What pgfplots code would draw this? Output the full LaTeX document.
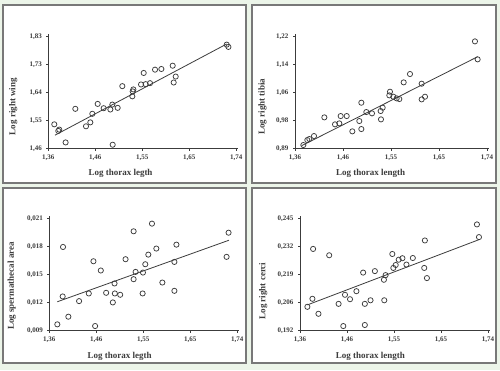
\documentclass[border=0pt]{standalone}
\usepackage{pgfplots}
\pgfplotsset{compat=1.18}
\usepackage{fontspec}
\setmainfont{Liberation Serif}
\definecolor{bgc}{RGB}{236,245,233}
\definecolor{frame}{RGB}{120,120,120}
\definecolor{ink}{RGB}{60,60,60}
\pgfplotsset{
  panel/.style={
    scale only axis,
    width=190pt, height=115pt,
    axis x line=bottom, axis y line=left,
    axis line style={-, ink, line width=0.9pt},
    xmin=1.36, xmax=1.744,
    xtick={1.36,1.455,1.55,1.645,1.74},
    xticklabels={{1,36},{1,46},{1,55},{1,65},{1,74}},
    scaled ticks=false,
    tick align=outside, major tick length=2pt,
    tick style={ink, line width=0.6pt},
    /pgf/number format/assume math mode=true,
    tick label style={font=\fontsize{7}{8}\selectfont\bfseries, text=ink},
    label style={font=\fontsize{9}{10}\selectfont\bfseries, text=ink},
    xlabel style={at={(axis description cs:0.38,-0.214)}, anchor=center},
    xticklabel style={yshift=-1pt},
    yticklabel style={xshift=-1pt},
    clip=false,
  },
  pts/.style={only marks, mark=o, mark size=2.6pt, ink, mark options={line width=0.75pt}},
  fit/.style={no marks, ink, line width=0.8pt},
}
\begin{document}
\begin{tikzpicture}[x=1pt,y=1pt]
\fill[bgc] (0,0) rectangle (500,370);
\filldraw[fill=white, draw=frame, line width=1.4pt] (3,187) rectangle (246,365);
\filldraw[fill=white, draw=frame, line width=1.4pt] (252,187) rectangle (496,365);
\filldraw[fill=white, draw=frame, line width=1.4pt] (3,7) rectangle (246,182);
\filldraw[fill=white, draw=frame, line width=1.4pt] (252,7) rectangle (496,182);

% Top-left
\begin{axis}[panel, at={(48.3pt,221.3pt)}, anchor=south west,
  ymin=1.46, ymax=1.8399,
  ytick={1.46,1.5525,1.645,1.7375,1.83},
  yticklabels={{1,46},{1,55},{1,64},{1,73},{1,83}},
  xlabel={Log thorax legth}, ylabel={Log right wing},
  ylabel style={at={(axis description cs:-0.184,0.365)}, anchor=center}]
\addplot[pts] coordinates {
(1.3721,1.5405)(1.3822,1.5231)(1.3802,1.5188)(1.3950,1.4807)(1.4146,1.5917)
(1.4362,1.5340)(1.4449,1.5470)(1.4490,1.5753)(1.4598,1.6080)(1.4719,1.5938)
(1.4854,1.5895)(1.4894,1.6058)(1.5002,1.5949)(1.4901,1.4731)(1.5096,1.6667)
(1.5298,1.6330)(1.5319,1.6558)(1.5305,1.6493)(1.5528,1.7102)(1.5474,1.6722)
(1.5568,1.6733)(1.5656,1.6765)(1.5757,1.7211)(1.5885,1.7233)(1.6114,1.7342)
(1.6134,1.6787)(1.6175,1.6983)(1.7206,1.8038)(1.7240,1.7962)};
\addplot[fit] coordinates {(1.3735,1.5046)(1.7206,1.8060)};
\end{axis}

% Top-right
\begin{axis}[panel, at={(295pt,221.3pt)}, anchor=south west, width=194pt,
  ymin=0.89, ymax=1.2288,
  ytick={0.89,0.9725,1.055,1.1375,1.22},
  yticklabels={{0,89},{0,98},{1,06},{1,14},{1,22}},
  xlabel={Log thorax length}, ylabel={Log right tibia},
  xlabel style={at={(axis description cs:0.39,-0.214)}, anchor=center},
  ylabel style={at={(axis description cs:-0.167,0.365)}, anchor=center}]
\addplot[pts] coordinates {
(1.3765,0.9008)(1.3844,0.9155)(1.3884,0.9185)(1.3976,0.9273)(1.4181,0.9823)
(1.4392,0.9617)(1.4477,0.9646)(1.4504,0.9862)(1.4623,0.9862)(1.4735,0.9411)
(1.4873,0.9715)(1.4913,1.0255)(1.4913,0.9479)(1.5012,0.9980)(1.5124,0.9941)
(1.5295,1.0010)(1.5335,1.0108)(1.5302,0.9764)(1.5480,1.0579)(1.5467,1.0471)
(1.5546,1.0432)(1.5612,1.0383)(1.5665,1.0363)(1.5751,1.0854)(1.5876,1.1100)
(1.6107,1.0815)(1.6107,1.0353)(1.6173,1.0432)(1.7162,1.2062)(1.7215,1.1532)};
\addplot[fit] coordinates {(1.3732,0.8988)(1.7215,1.1610)};
\end{axis}

% Bottom-left
\begin{axis}[panel, at={(49.3pt,39.3pt)}, anchor=south west,
  ymin=0.009, ymax=0.02132,
  ytick={0.009,0.012,0.015,0.018,0.021},
  yticklabels={{0,009},{0,012},{0,015},{0,018},{0,021}},
  xlabel={Log thorax legth}, ylabel={Log spermathecal area},
  xlabel style={at={(axis description cs:0.37,-0.22)}, anchor=center},
  ylabel style={at={(axis description cs:-0.198,0.39)}, anchor=center}]
\addplot[pts] coordinates {
(1.3762,0.00968)(1.3870,0.01267)(1.3877,0.01797)(1.3985,0.01050)(1.4202,0.01217)
(1.4398,0.01299)(1.4492,0.01644)(1.4526,0.00950)(1.4641,0.01545)(1.4749,0.01306)
(1.4884,0.01203)(1.4918,0.01406)(1.4925,0.01299)(1.5033,0.01285)(1.5141,0.01666)
(1.5304,0.01965)(1.5304,0.01452)(1.5344,0.01530)(1.5486,0.01299)(1.5493,0.01523)
(1.5540,0.01612)(1.5601,0.01715)(1.5675,0.02047)(1.5763,0.01780)(1.5885,0.01416)
(1.6128,0.01637)(1.6128,0.01327)(1.6169,0.01822)(1.7183,0.01691)(1.7223,0.01950)};
\addplot[fit] coordinates {(1.3762,0.01210)(1.7230,0.01869)};
\end{axis}

% Bottom-right
\begin{axis}[panel, at={(300pt,39.3pt)}, anchor=south west,
  ymin=0.192, ymax=0.24642,
  ytick={0.192,0.20525,0.2185,0.23175,0.245},
  yticklabels={{0,192},{0,206},{0,219},{0,232},{0,245}},
  xlabel={Log thorax length}, ylabel={Log right cerci},
  xlabel style={at={(axis description cs:0.37,-0.225)}, anchor=center},
  ylabel style={at={(axis description cs:-0.193,0.345)}, anchor=center}]
\addplot[pts] coordinates {
(1.3749,0.2033)(1.3851,0.2071)(1.3865,0.2307)(1.3973,0.2000)(1.4190,0.2277)
(1.4380,0.2047)(1.4475,0.1942)(1.4509,0.2090)(1.4611,0.2069)(1.4740,0.2107)
(1.4876,0.2195)(1.4910,0.2047)(1.4910,0.1947)(1.5025,0.2064)(1.5113,0.2202)
(1.5296,0.2161)(1.5303,0.2064)(1.5330,0.2183)(1.5466,0.2283)(1.5486,0.2217)
(1.5534,0.2231)(1.5595,0.2256)(1.5670,0.2263)(1.5751,0.2233)(1.5880,0.2264)
(1.6111,0.2217)(1.6124,0.2347)(1.6165,0.2169)(1.7176,0.2423)(1.7217,0.2363)};
\addplot[fit] coordinates {(1.3749,0.2042)(1.7230,0.2352)};
\end{axis}
\pgfresetboundingbox
\useasboundingbox (0,0) rectangle (500,370);
\end{tikzpicture}
\end{document}
